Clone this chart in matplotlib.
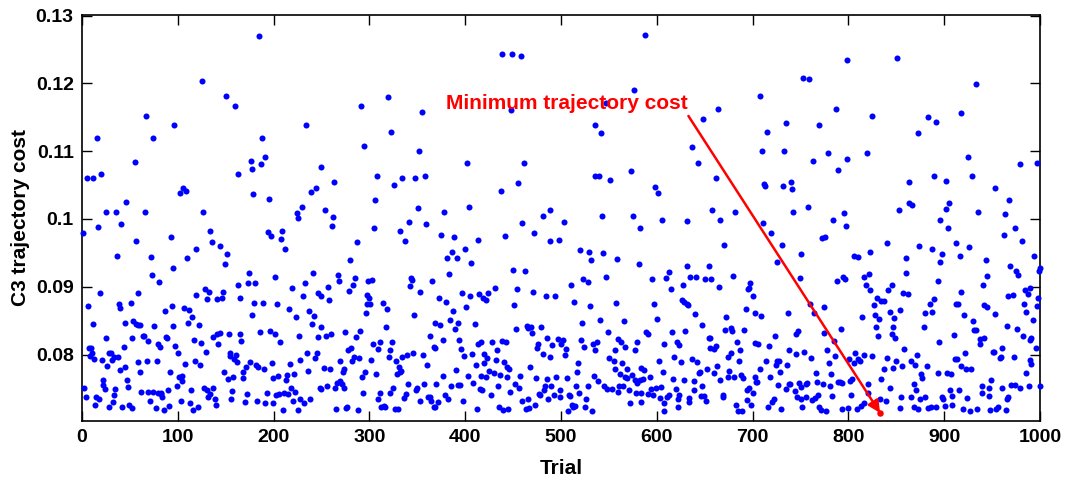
import numpy as np
import matplotlib
matplotlib.use("Agg")
import matplotlib.pyplot as plt

trials_1 = [67, 16, 74, 55, 5, 12, 20, 46, 25, 36,
            66, 41, 17, 1, 56, 37, 72, 73, 80, 19,
            58, 6, 39, 40, 51, 11, 45, 53, 56, 58,
            61, 75, 25, 52, 64, 65, 69, 79, 81, 7,
            9, 10, 8, 13, 28, 30, 21, 33, 38, 31,
            44, 26, 59, 68, 78, 40, 45, 61, 22, 47,
            2, 22, 24, 34, 48, 62, 69, 74, 79, 82,
            4, 15, 18, 33, 32, 71, 14, 28, 42, 49,
            52, 77]
costs_1 = [1152, 1119, 1119, 1084, 1061, 1061, 1067, 1025, 1011, 1011,
           1011, 992, 988, 980, 967, 946, 944, 917, 907, 891,
           891, 871, 874, 868, 876, 845, 847, 849, 845, 843,
           844, 842, 825, 825, 828, 828, 820, 815, 811, 810,
           810, 802, 798, 794, 802, 802, 792, 796, 796, 792,
           811, 783, 789, 791, 790, 777, 781, 775, 763, 763,
           750, 755, 749, 749, 752, 745, 745, 745, 744, 742,
           737, 737, 734, 740, 730, 731, 726, 722, 722, 725,
           721, 721]

trials_2 = [125, 150, 160, 96, 163, 102, 105, 109, 126, 134,
            136, 93, 119, 144, 151, 149, 110, 95, 163, 165,
            119, 128, 133, 130, 141, 146, 147, 94, 87, 107,
            112, 115, 111, 122, 95, 88, 89, 97, 100, 117,
            124, 129, 137, 141, 144, 142, 153, 165, 166, 108,
            118, 123, 155, 154, 161, 159, 162, 92, 101, 104,
            104, 148, 152, 158, 99, 83, 84, 90, 114,
            127, 131, 134, 137, 132, 157, 139, 140, 156, 91,
            86, 103, 113, 116, 121]
costs_2 = [1203, 1181, 1167, 1139, 1067, 1038, 1046, 1042, 1011, 982,
           966, 974, 956, 960, 949, 933, 943, 927, 902, 883,
           888, 896, 892, 882, 882, 884, 892, 872, 864, 868,
           866, 855, 846, 844, 842, 826, 825, 813, 803, 822,
           817, 804, 826, 831, 832, 816, 830, 830, 820, 786,
           791, 785, 803, 798, 800, 794, 789, 774, 767, 768,
           761, 774, 764, 767, 753, 743, 738, 747, 748,
           750, 747, 742, 750, 738, 746, 735, 726, 735, 724,
           718, 731, 728, 718, 723]

trials_3 = [185, 234, 188, 191, 187, 176, 177, 249, 179, 195,
            239, 244, 230, 224, 225, 194, 197, 209, 208, 212,
            174, 173, 181, 202, 241, 233, 231, 219, 246,
            249, 180, 189, 204, 216, 223, 237, 242, 240,
            178, 186, 196, 201, 207, 227, 246, 250,
            175, 171, 168, 182, 184, 190, 198, 217, 228, 235,
            245, 243, 168, 199, 205, 213, 214, 221, 236, 248,
            249, 218, 222, 172, 193, 203, 206, 211, 215, 170,
            183, 191, 199, 210, 220, 226, 228, 232, 238]
costs_3 = [1270, 1138, 1120, 1092, 1081, 1085, 1074, 1076, 1037, 1029,
           1040, 1045, 1017, 1009, 1001, 981, 975, 983, 971, 956,
           920, 906, 906, 914, 921, 906, 886, 898, 891,
           887, 876, 876, 874, 867, 855, 864, 857, 845,
           858, 834, 835, 830, 819, 828, 826, 841,
           789, 781, 775, 785, 781, 779, 788, 786, 792, 803,
           802, 795, 765, 765, 769, 762, 770, 772, 776, 751,
           749, 751, 745, 742, 743, 741, 742, 743, 742, 730,
           732, 728, 728, 718, 732, 718, 734, 728, 734]

trials_4 = [319, 291, 323, 294, 263, 308, 326, 334, 306, 254,
            262, 261, 305, 332, 287, 280, 267, 268, 285, 283,
            279, 299, 303, 257, 258, 297, 300, 298,
            301, 296, 314, 318, 317, 255, 260, 275,
            286, 290, 304, 311, 309, 324, 321, 320, 278, 281,
            284, 282, 289, 302, 269, 253, 259, 274, 272, 295,
            292, 307, 328, 331, 333, 329, 332, 256, 264,
            266, 269, 271, 273, 293, 311, 309, 322, 325, 265,
            276, 277, 288, 312, 315, 316, 327, 330]
costs_4 = [1180, 1167, 1128, 1108, 1054, 1063, 1050, 1060, 1028, 1014,
           1003, 989, 986, 982, 966, 940, 918, 909, 913, 902,
           894, 908, 910, 899, 881, 888, 883, 874,
           875, 861, 876, 867, 841, 828, 831, 834,
           826, 835, 815, 818, 808, 819, 807, 796, 807, 809,
           797, 791, 795, 792, 790, 780, 779, 778, 774, 775,
           767, 772, 791, 781, 776, 771, 774, 753, 750,
           758, 761, 757, 750, 744, 743, 735, 743, 750, 720,
           721, 722, 718, 723, 724, 723, 720, 719]

trials_5 = [355, 352, 402, 348, 358, 351, 378, 404, 341, 359,
            337, 375, 388, 400, 413, 406, 381, 386, 391, 383,
            343, 344, 342, 353, 365, 397, 405, 414, 401, 373,
            380, 387, 347, 369, 374, 384, 392, 389, 410, 363,
            377, 367, 368, 394, 396, 399, 407, 413, 416, 334,
            339, 346, 356, 360, 390, 377, 403, 411, 416,
            340, 349, 350, 357, 370, 385, 393, 395, 408, 415,
            338, 336, 353, 361, 364, 363, 379, 382, 367, 369,
            372, 398, 412]
costs_5 = [1158, 1100, 1082, 1061, 1063, 1016, 1011, 1017, 996, 992,
           967, 977, 974, 955, 969, 935, 943, 951, 943, 919,
           913, 910, 901, 893, 908, 891, 887, 889, 870, 884,
           878, 864, 859, 846, 844, 851, 847, 837, 845, 827,
           821, 811, 809, 821, 808, 798, 801, 815, 819, 797,
           800, 803, 799, 785, 777, 768, 769, 785, 768,
           757, 747, 750, 756, 756, 753, 755, 755, 758, 749,
           742, 736, 731, 738, 731, 738, 741, 734, 723, 723,
           730, 731, 720]

trials_6 = [438, 449, 458, 448, 461, 455, 437, 481, 488, 459,
            442, 472, 489, 498, 450, 462, 419, 422, 424,
            431, 454, 451, 471, 484, 494, 453, 464, 466, 469,
            470, 479, 428, 438, 443, 433, 476, 475, 485,
            491, 497, 481, 489, 500, 420, 423, 432, 441, 446,
            468, 420, 425, 430, 444, 457, 485, 495, 422,
            436, 444, 452, 456, 474, 483, 482, 490, 418, 434,
            447, 477, 478, 499, 427, 459, 466, 486, 493, 499,
            435, 439, 445, 463, 467, 473]
costs_6 = [1244, 1243, 1241, 1161, 1082, 1053, 1041, 1004, 1014, 994,
           975, 979, 967, 969, 925, 923, 883, 880, 891,
           898, 896, 873, 893, 887, 887, 838, 842, 839, 840,
           832, 841, 819, 820, 819, 806, 816, 809, 824,
           814, 823, 801, 796, 816, 801, 795, 792, 789, 778,
           781, 787, 776, 773, 782, 768, 764, 767, 767,
           770, 767, 757, 751, 765, 753, 747, 753, 748, 753,
           745, 742, 740, 748, 741, 732, 734, 734, 741, 738,
           722, 718, 719, 719, 721, 725]

trials_7 = [576, 547, 536, 542, 536, 540, 551, 573, 503,
            543, 575, 582, 520, 529, 531, 544, 558, 581, 510,
            523, 528, 547, 514, 530, 557, 522, 541, 566, 549,
            502, 521, 505, 504, 524, 533, 538, 535, 560,
            563, 556, 567, 579, 577, 518, 550, 555, 564, 556,
            569, 584, 506, 517, 534, 539, 562, 567, 569,
            574, 577, 579, 582, 516, 519, 528, 545, 548,
            553, 559, 561, 565, 571, 578, 508, 509, 526,
            572, 511, 513, 515, 507, 525, 532, 583]
costs_7 = [1191, 1171, 1139, 1127, 1063, 1063, 1058, 1071, 995,
           1004, 1005, 986, 954, 952, 939, 950, 941, 933, 903,
           912, 907, 914, 877, 872, 876, 847, 851, 850, 833,
           822, 822, 808, 799, 811, 816, 818, 807, 823,
           818, 806, 811, 819, 807, 787, 795, 790, 787, 779,
           779, 780, 765, 774, 769, 761, 771, 767, 766,
           770, 762, 758, 762, 753, 744, 754, 753, 749,
           749, 745, 753, 754, 747, 744, 741, 739, 734,
           728, 725, 722, 724, 717, 723, 717, 730]

trials_8 = [588, 664, 648, 637, 643, 662, 598, 601, 658, 605,
            631, 666, 632, 654, 613, 595, 610, 635, 641, 650,
            657, 627, 615, 665, 626, 628, 631, 633, 597, 640,
            600, 647, 589, 591, 616, 629, 608, 621, 623,
            654, 656, 656, 660, 662, 618, 625, 637, 642, 602,
            587, 606, 645, 644, 652, 663, 660, 666, 593,
            586, 617, 628, 599, 604, 594, 620, 639, 647, 596,
            613, 611, 623, 646, 649, 584, 591, 603, 622, 639,
            608, 634, 634, 622, 651, 607]
costs_8 = [1271, 1162, 1147, 1106, 1082, 1061, 1047, 1038, 1013, 998,
           997, 998, 930, 930, 922, 912, 913, 915, 915, 911,
           911, 902, 896, 900, 880, 877, 875, 873, 875, 860,
           852, 844, 834, 831, 834, 835, 815, 819, 814,
           825, 825, 809, 808, 812, 797, 789, 793, 789, 790,
           777, 774, 775, 773, 778, 783, 773, 762, 767,
           764, 764, 763, 751, 752, 749, 749, 761, 753, 741,
           741, 738, 740, 739, 739, 743, 742, 736, 734, 748,
           729, 736, 730, 723, 731, 717]

trials_9 = [708, 735, 715, 710, 733, 712, 713, 732, 740,
            741, 682, 742, 711, 719, 731, 670, 725, 750,
            749, 680, 697, 695, 696, 700, 693, 703, 709,
            737, 672, 671, 677, 679, 691, 723, 747, 745, 684,
            702, 706, 717, 738, 687, 677, 674, 745, 686, 714,
            725, 728, 724, 736, 708, 675, 729, 674, 681, 688,
            690, 702, 704, 705, 718, 727, 738, 748, 750,
            696, 700, 735, 739, 744, 746, 669, 669, 694, 683,
            694, 698, 722, 720, 716, 730, 685, 689, 750]
costs_9 = [1181, 1141, 1129, 1101, 1100, 1051, 1048, 1049, 1054,
           1044, 1011, 1011, 994, 980, 961, 961, 937, 948,
           913, 916, 906, 896, 898, 887, 867, 861, 857,
           862, 856, 836, 839, 835, 836, 827, 835, 830, 818,
           817, 815, 812, 807, 806, 802, 797, 801, 791, 791,
           790, 791, 785, 785, 779, 776, 775, 767, 767, 770,
           765, 767, 760, 760, 767, 755, 756, 758, 752,
           750, 743, 749, 756, 746, 737, 741, 738, 747, 726,
           733, 725, 735, 730, 722, 720, 717, 717, 735]

trials_10 = [799, 753, 759, 787, 769, 825, 779, 819, 763, 798,
             789, 758, 795, 784, 797, 772, 776, 806, 810,
             822, 788, 794, 796, 816, 821, 818, 823, 760, 774,
             764, 792, 775, 814, 830, 827, 834, 828, 832, 829,
             831, 785, 754, 761, 778, 780, 786, 801, 807, 810,
             812, 806, 816, 825, 766, 782, 756, 757,
             767, 773, 781, 789, 791, 793, 802, 804, 820, 834,
             756, 762, 765, 768, 783, 803, 820, 833, 752, 769,
             771, 777, 793, 800, 809, 813, 816]
costs_10 = [1235, 1208, 1206, 1163, 1138, 1152, 1098, 1097, 1086, 1089,
            1073, 1018, 1009, 998, 989, 972, 973, 946, 944,
            951, 909, 915, 912, 915, 919, 903, 895, 875, 870,
            861, 838, 832, 855, 884, 873, 879, 859, 852, 840,
            828, 820, 804, 795, 807, 788, 798, 793, 803, 794,
            790, 787, 800, 798, 773, 772, 756, 758,
            760, 756, 753, 759, 759, 758, 761, 764, 757, 764,
            738, 733, 736, 740, 739, 741, 743, 735, 723, 723,
            718, 717, 720, 721, 720, 724, 728]

trials_11 = [851, 883, 891, 873, 918, 889, 902, 863, 863, 866,
             853, 905, 902, 896, 904, 840, 874, 887, 912, 860,
             898, 896, 916, 860, 845, 841, 893, 857, 862, 917,
             837, 889, 885, 854, 843, 880, 887, 912, 914, 848,
             847, 879, 845, 849, 910, 895, 858, 840, 850, 856,
             865, 872, 870, 882, 911, 913, 918, 837, 847, 876,
             877, 893, 903, 907, 843, 868, 871, 906, 915, 839,
             855, 865, 875, 880, 898, 899, 908, 854, 868, 873,
             883, 886, 891, 901, 908]
costs_11 = [1238, 1150, 1143, 1127, 1156, 1063, 1056, 1054, 1024, 1020,
            1013, 1024, 1015, 999, 986, 965, 960, 955, 965, 943,
            948, 936, 945, 921, 903, 895, 909, 891, 890, 893,
            879, 882, 874, 866, 863, 862, 863, 874, 874, 854,
            841, 841, 831, 825, 829, 819, 808, 795, 791, 783,
            790, 800, 784, 783, 793, 794, 783, 779, 780, 772,
            766, 773, 773, 772, 750, 757, 747, 748, 747, 731,
            737, 737, 735, 737, 738, 735, 739, 721, 722, 720,
            721, 722, 723, 724, 725]

trials_12 = [933, 925, 929, 979, 997, 953, 968, 935, 963, 974,
             962, 981, 926, 994, 969, 975, 977, 1000, 999, 944,
             945, 940, 967, 972, 984, 989, 987, 998, 997, 983,
             985, 993, 942, 945, 921, 953, 930, 933, 931, 965,
             976, 982, 991, 990, 937, 937, 942, 951, 952, 960,
             959, 958, 973, 996, 922, 923, 928, 989, 991, 985,
             939, 939, 947, 947, 949, 960, 970, 974, 979, 988,
             1000, 924, 966, 967, 920, 927, 934, 948, 954, 956,
             964]
costs_12 = [1199, 1092, 1064, 1081, 1083, 1045, 1028, 1011, 1008, 987,
            976, 968, 959, 945, 931, 923, 917, 927, 923, 940,
            916, 902, 887, 888, 895, 898, 890, 883, 872, 874,
            863, 851, 873, 870, 859, 860, 850, 836, 836, 842,
            838, 828, 824, 822, 823, 816, 824, 804, 804, 809,
            797, 795, 797, 810, 803, 779, 779, 792, 786, 773,
            754, 744, 751, 739, 762, 750, 755, 755, 750, 754,
            754, 736, 735, 737, 720, 717, 720, 718, 719, 722,
            718]

min_trial = 833
min_cost = 714

yticks = [0.08, 0.09, 0.10, 0.11, 0.12, 0.13]
ytick_labels = ["0.08", "0.09", "0.1", "0.11", "0.12", "0.13"]
xticks = list(range(0, 1001, 100))

trial_parts = [trials_1, trials_2, trials_3, trials_4, trials_5, trials_6,
               trials_7, trials_8, trials_9, trials_10, trials_11, trials_12]
cost_parts = [costs_1, costs_2, costs_3, costs_4, costs_5, costs_6,
              costs_7, costs_8, costs_9, costs_10, costs_11, costs_12]
for i, (t, c) in enumerate(zip(trial_parts, cost_parts)):
    assert len(t) == len(c), f"strip {i + 1}: {len(t)} vs {len(c)}"

trial = np.concatenate([np.array(t) for t in trial_parts])
cost = np.concatenate([np.array(c) for c in cost_parts]) / 1e4

plt.rcParams['font.family'] = ['Liberation Sans', 'DejaVu Sans']
plt.rcParams['font.weight'] = 'bold'

fig = plt.figure(figsize=(10.7, 4.83), dpi=100)
ax = fig.add_axes([0.0766, 0.1284, 0.8954, 0.8406])

ax.scatter(trial, cost, s=19, color='#0000ff', linewidths=0, clip_on=False, zorder=3)
ax.scatter([min_trial], [min_cost / 1e4], s=22, color='red', linewidths=0, clip_on=False, zorder=4)

ax.annotate("", xy=(min_trial, min_cost / 1e4), xytext=(633, 0.1152),
            arrowprops=dict(arrowstyle='-|>', color='red', lw=1.8,
                            mutation_scale=18, shrinkA=0, shrinkB=0), zorder=5)
ax.text(380, 0.1170, "Minimum trajectory cost", color='red', fontsize=15,
        fontweight='bold', ha='left', va='center')

ax.set_xlim(0, 1000)
ax.set_ylim(0.0702, 0.1301)
ax.set_xticks(xticks)
ax.set_yticks(yticks)
ax.set_yticklabels(ytick_labels)
ax.tick_params(direction='in', length=7, width=1, top=True, right=True, labelsize=14, pad=6)
for s in ax.spines.values():
    s.set_linewidth(1.2)

ax.set_xlabel("Trial", fontsize=15, fontweight='bold', labelpad=9)
ax.set_ylabel("C3 trajectory cost", fontsize=15, fontweight='bold', labelpad=4)

fig.savefig("out.png", dpi=100)
